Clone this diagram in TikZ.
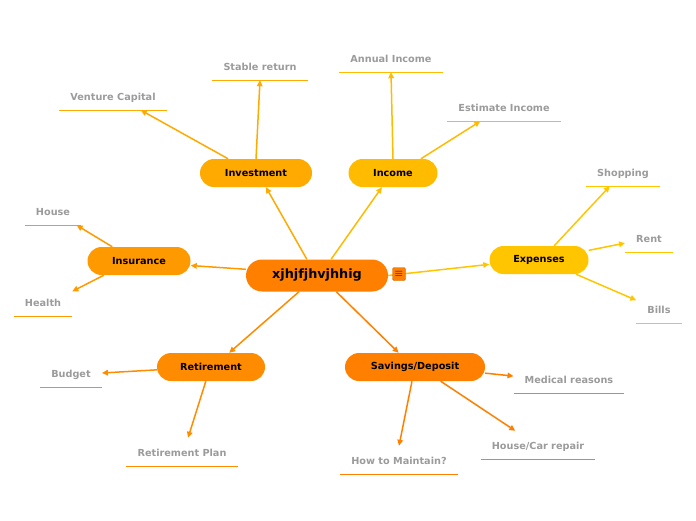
\documentclass[tikz,border=0pt]{standalone}
\usepackage{fontspec}
\setmainfont{DejaVu Sans}
\usetikzlibrary{arrows.meta}
\definecolor{rootcol}{HTML}{FF7F00}
\definecolor{invcol}{HTML}{FFAA00}
\definecolor{inccol}{HTML}{FFBB00}
\definecolor{expcol}{HTML}{FFC600}
\definecolor{inscol}{HTML}{FF9900}
\definecolor{retcol}{HTML}{FF8C00}
\definecolor{savcol}{HTML}{FF7F00}
\definecolor{leafgray}{HTML}{9B9B9B}

\begin{document}
\begin{tikzpicture}[x=1pt, y=-1pt,
  every node/.style={font=\bfseries\fontsize{9.7}{11}\selectfont},
  topic/.style={fill=#1, draw=none, rounded corners=14pt, minimum height=28pt, inner sep=0pt},
  leaf/.style={text=leafgray, inner xsep=11pt, inner ysep=9.5pt, text height=9pt, text depth=0pt},
  link/.style={draw=#1, line width=1.5pt, -{Triangle[length=6pt,width=5.5pt]}}]
  \useasboundingbox (0,0) rectangle (696,520);

  % main topic and branches
  \node[topic=rootcol, minimum width=142pt, minimum height=32pt, rounded corners=16pt,
        font=\bfseries\fontsize{12.8}{14}\selectfont] (root) at (317,275.5) {xjhjfjhvjhhig};
  \node[topic=invcol, minimum width=112pt] (invest) at (256,173) {Investment};
  \node[topic=inccol, minimum width=89pt] (income) at (393,173) {Income};
  \node[topic=expcol, minimum width=99pt] (expenses) at (539,260) {Expenses};
  \node[topic=inscol, minimum width=103pt] (insurance) at (139,261) {Insurance};
  \node[topic=retcol, minimum width=108pt] (retire) at (211,367) {Retirement};
  \node[topic=savcol, minimum width=140pt] (savings) at (415,367) {Savings/Deposit};

  % leaves
  \node[leaf] (venture) at (113,96) {Venture Capital};
  \node[leaf] (stable) at (260,66) {Stable return};
  \node[leaf] (annual) at (391,58) {Annual Income};
  \node[leaf] (estimate) at (504,107) {Estimate Income};
  \node[leaf] (house) at (53,211) {House};
  \node[leaf] (health) at (43,302) {Health};
  \node[leaf] (shopping) at (623,172) {Shopping};
  \node[leaf] (rent) at (649,238) {Rent};
  \node[leaf] (bills) at (659,309) {Bills};
  \node[leaf] (budget) at (71,373) {Budget};
  \node[leaf] (plan) at (182,452) {Retirement Plan};
  \node[leaf] (medical) at (569,379) {Medical reasons};
  \node[leaf] (housecar) at (538,445) {House/Car repair};
  \node[leaf] (maintain) at (399,460) {How to Maintain?};

  % underlines
  \foreach \n/\c in {venture/invcol, stable/invcol, annual/inccol, estimate/inccol,
                     house/inscol, health/inscol, shopping/expcol, rent/expcol, bills/expcol,
                     budget/retcol, plan/retcol, medical/savcol, housecar/savcol, maintain/savcol}
    \draw[\c, line width=1.3pt] (\n.south west) -- (\n.south east);

  % connectors
  \draw[link=invcol] (root.122) -- (invest.-55);
  \draw[link=inccol] (root.49) -- (income.-128);
  \draw[link=inscol] (root.175) -- (insurance.-5.5);
  \draw[link=expcol] (root.east) -- (expenses.185);
  \draw[link=retcol] (root.-138) -- (retire.38);
  \draw[link=savcol] (root.-40) -- (savings.139);

  \draw[link=invcol] (invest.153) -- (venture.-27);
  \draw[link=invcol] (invest.north) -- (stable.south);
  \draw[link=inccol] (income.north) -- (annual.south);
  \draw[link=inccol] (income.27) -- (estimate.211);
  \draw[link=inscol] (insurance.152) -- (house.-31);
  \draw[link=inscol] (insurance.202) -- (health.20);
  \draw[link=expcol] (expenses.43) -- (shopping.227);
  \draw[link=expcol] (expenses.11) -- (rent.192);
  \draw[link=expcol] (expenses.-21) -- (bills.159);
  \draw[link=retcol] (retire.183) -- (budget.east);
  \draw[link=retcol] (retire.250) -- (plan.67);
  \draw[link=savcol] (savings.-5) -- (medical.177);
  \draw[link=savcol] (savings.-29) -- (housecar.148);
  \draw[link=savcol] (savings.258) -- (maintain.north);

  % menu icon
  \node[fill=rootcol, draw=rootcol!80!black, rounded corners=1.5pt, minimum size=13pt,
        inner sep=0pt, font=\fontsize{11}{11}\selectfont] (menu) at (399,274) {$\equiv$};
\end{tikzpicture}
\end{document}
